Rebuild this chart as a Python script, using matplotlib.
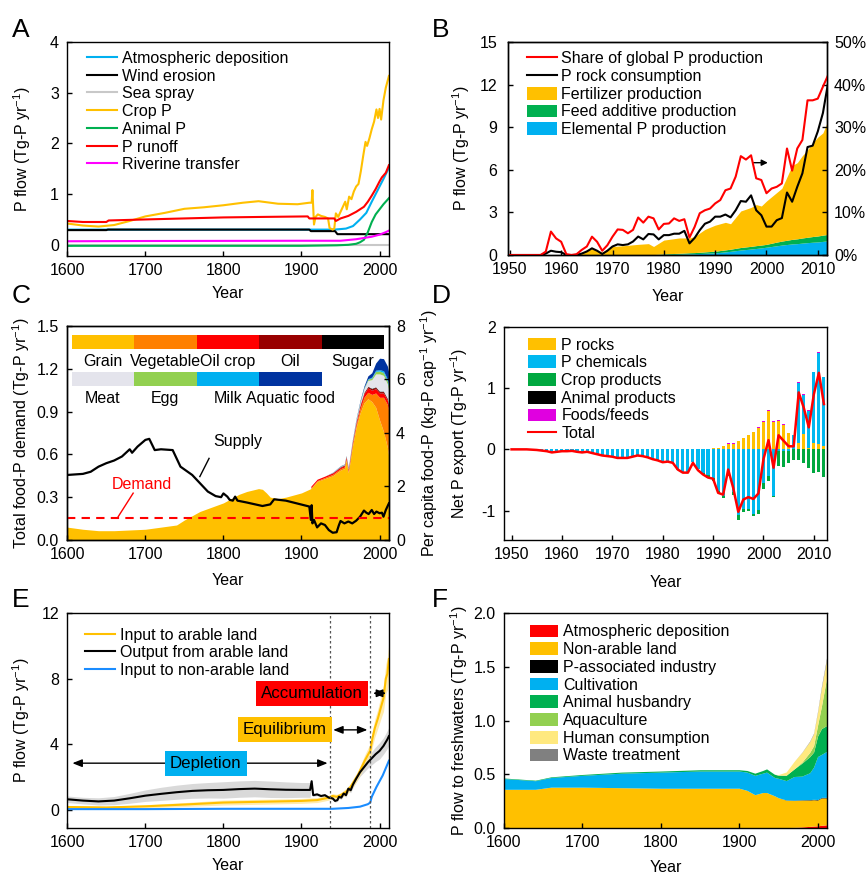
import numpy as np
import matplotlib
matplotlib.use('Agg')
import matplotlib.pyplot as plt
from matplotlib.patches import Patch, Rectangle
from matplotlib.lines import Line2D

plt.rcParams['font.family'] = ['Liberation Sans', 'DejaVu Sans']
plt.rcParams['font.size'] = 11.5
plt.rcParams['axes.unicode_minus'] = False
plt.rcParams['mathtext.fontset'] = 'custom'
plt.rcParams['mathtext.rm'] = 'Liberation Sans'
plt.rcParams['mathtext.it'] = 'Liberation Sans:italic'
plt.rcParams['mathtext.bf'] = 'Liberation Sans:bold'

GOLD = '#FFC000'
CYAN = '#00B0F0'
GREEN = '#00B050'
RED = '#FF0000'
MAGENTA = '#FF00FF'

# ---------------- Panel A: P flows 1600-2012 ----------------
a_dep_years = [1600, 1942, 1950, 1957, 1966, 1975, 1983, 1990, 2000, 2005, 2012]
a_dep = [0.30, 0.30, 0.31, 0.32, 0.37, 0.50, 0.63, 0.85, 1.15, 1.30, 1.52]
a_wind_years = [1600, 1650, 1652, 1910, 1912, 1943, 1946, 2012]
a_wind = [0.29, 0.29, 0.30, 0.30, 0.27, 0.27, 0.21, 0.21]
a_sea_years = [1600, 2012]
a_sea = [0.0, 0.0]
a_crop_years = [1600, 1620, 1640, 1660, 1680, 1700, 1725, 1750, 1775, 1800, 1825, 1845,
                1870, 1895, 1910, 1913, 1914, 1916, 1918, 1921, 1925, 1930, 1934, 1936,
                1940, 1942, 1944, 1947, 1950, 1953, 1956, 1958, 1961, 1964, 1967, 1970,
                1973, 1976, 1979, 1982, 1984, 1987, 1990, 1993, 1996, 1998, 2000, 2002,
                2005, 2008, 2012]
a_crop = [0.42, 0.38, 0.36, 0.39, 0.47, 0.56, 0.63, 0.71, 0.74, 0.78, 0.83, 0.86,
          0.81, 0.80, 0.83, 0.83, 1.08, 0.40, 0.55, 0.60, 0.57, 0.55, 0.52, 0.33,
          0.30, 0.32, 0.62, 0.55, 0.65, 0.75, 0.85, 0.70, 0.95, 0.90, 1.05, 1.15,
          1.20, 1.45, 1.75, 2.03, 1.95, 2.10, 2.28, 2.43, 2.67, 2.50, 2.68, 2.47,
          2.85, 3.10, 3.33]
a_animal_years = [1600, 1900, 1945, 1960, 1970, 1975, 1980, 1985, 1990, 1995, 2000, 2005, 2012]
a_animal = [-0.02, -0.02, -0.01, 0.0, 0.02, 0.05, 0.10, 0.25, 0.45, 0.60, 0.70, 0.80, 0.92]
a_runoff_years = [1600, 1620, 1650, 1653, 1700, 1750, 1800, 1850, 1908, 1910, 1942, 1944,
                  1950, 1960, 1970, 1980, 1985, 1990, 1995, 2000, 2003, 2008, 2012]
a_runoff = [0.47, 0.45, 0.45, 0.48, 0.50, 0.52, 0.54, 0.55, 0.56, 0.52, 0.52, 0.47,
            0.52, 0.57, 0.65, 0.75, 0.85, 0.97, 1.10, 1.25, 1.33, 1.42, 1.57]
a_river_years = [1600, 1700, 1900, 1950, 1970, 1990, 2000, 2008, 2012]
a_river = [0.07, 0.075, 0.08, 0.08, 0.11, 0.16, 0.20, 0.25, 0.28]

# ---------------- Panel B: P industry 1950-2012 ----------------
b_years = list(range(1950, 2013))
b_share = [0, 0, 0, 0, 0, 0, 0, 0.8, 5.5, 3.9,
           3.1, 0.2, 0, 0.2, 1.2, 2.0, 4.3, 3.1, 1.0, 2.3,
           4.3, 6.0, 5.9, 5.1, 5.9, 8.8, 7.6, 9.0, 8.6, 6.0,
           7.3, 7.4, 8.6, 8.0, 8.4, 4.1, 6.6, 9.8, 10.5, 10.9,
           12.1, 12.9, 15.2, 15.6, 18.4, 23.2, 22.4, 23.4, 18.0, 17.6,
           14.5, 15.6, 16.0, 16.8, 25.0, 19.8, 25.0, 27.0, 36.3, 36.3,
           36.7, 39.5, 42.2]
b_rock = [0, 0, 0, 0, 0, 0, 0, 0.1, 0.3, 0.23,
          0.2, 0, 0, 0, 0.1, 0.25, 0.47, 0.3, 0.07, 0.3,
          0.6, 0.75, 0.7, 0.75, 0.95, 1.3, 1.1, 1.48, 1.45, 1.1,
          1.4, 1.4, 1.5, 1.5, 1.7, 0.82, 1.2, 1.75, 2.2, 2.35,
          2.7, 2.7, 2.85, 2.65, 3.15, 3.8, 3.75, 4.2, 3.15, 2.8,
          2.0, 2.0, 2.45, 2.6, 4.4, 3.75, 4.8, 5.75, 7.6, 7.7,
          8.7, 10.0, 12.1]
b_area_years = [1950, 1963, 1964, 1966, 1968, 1970, 1972, 1975, 1977, 1978, 1980, 1983,
                1985, 1986, 1988, 1990, 1992, 1993, 1995, 1997, 1998, 1999, 2000, 2002,
                2003, 2004, 2005, 2006, 2007, 2008, 2009, 2010, 2011, 2012]
b_elemental = [0, 0, 0, 0, 0, 0, 0, 0, 0.01, 0.01, 0.03, 0.06,
               0.08, 0.09, 0.12, 0.15, 0.22, 0.26, 0.35, 0.42, 0.46, 0.50, 0.55, 0.65,
               0.70, 0.74, 0.78, 0.80, 0.84, 0.87, 0.90, 0.92, 0.96, 1.00]
b_feed = [0, 0, 0, 0, 0, 0, 0.01, 0.02, 0.02, 0.02, 0.05, 0.06,
          0.08, 0.08, 0.10, 0.12, 0.14, 0.15, 0.18, 0.19, 0.20, 0.20, 0.20, 0.26,
          0.28, 0.30, 0.32, 0.34, 0.36, 0.38, 0.40, 0.42, 0.44, 0.45]
b_fert = [0, 0, 0.15, 0.45, 0.20, 0.60, 0.64, 0.73, 0.77, 0.57, 0.97, 1.08,
          1.04, 1.13, 1.58, 1.83, 1.94, 1.79, 2.57, 2.74, 2.89, 2.75, 3.05, 3.49,
          3.72, 4.46, 5.20, 5.36, 5.80, 6.15, 6.60, 6.96, 7.20, 8.05]

# ---------------- Panel C: food P ----------------
c_years = [1600, 1620, 1640, 1660, 1680, 1700, 1720, 1740, 1750, 1760, 1770, 1780,
           1790, 1795, 1800, 1810, 1820, 1830, 1845, 1850, 1855, 1860, 1870, 1880,
           1900, 1912, 1920, 1930, 1940, 1950, 1955, 1957, 1960, 1965, 1970, 1975,
           1980, 1985, 1990, 1995, 2000, 2005, 2010, 2012]
c_grain = [0.09, 0.075, 0.065, 0.065, 0.07, 0.075, 0.09, 0.105, 0.14, 0.17, 0.20, 0.22,
           0.24, 0.25, 0.26, 0.29, 0.32, 0.34, 0.36, 0.355, 0.33, 0.30, 0.29, 0.30,
           0.33, 0.36, 0.41, 0.43, 0.45, 0.49, 0.50, 0.56, 0.47, 0.65, 0.79, 0.89,
           0.96, 0.99, 0.97, 0.93, 0.84, 0.76, 0.65, 0.58]
c_mod_start = 1912
c_vegetable = [0.005, 0.006, 0.008, 0.01, 0.01, 0.012, 0.012, 0.012, 0.015, 0.02,
               0.03, 0.04, 0.045, 0.05, 0.10, 0.16, 0.24, 0.30, 0.32]
c_oilcrop = [0.012, 0.01, 0.01, 0.01, 0.01, 0.01, 0.01, 0.01, 0.012, 0.015,
             0.02, 0.025, 0.03, 0.03, 0.03, 0.03, 0.03, 0.03, 0.03]
c_oil = [0, 0, 0, 0.002, 0.003, 0.003, 0.003, 0.004, 0.005, 0.006,
         0.007, 0.008, 0.01, 0.01, 0.01, 0.01, 0.01, 0.01, 0.01]
c_sugar = [0, 0, 0, 0.001, 0.002, 0.002, 0.002, 0.002, 0.002, 0.003,
           0.003, 0.003, 0.003, 0.004, 0.004, 0.004, 0.004, 0.004, 0.004]
c_meat = [0, 0, 0, 0.002, 0.003, 0.003, 0.003, 0.004, 0.006, 0.01,
          0.015, 0.025, 0.04, 0.06, 0.09, 0.12, 0.11, 0.10, 0.10]
c_egg = [0, 0, 0, 0, 0.001, 0.001, 0.001, 0.002, 0.002, 0.003,
         0.004, 0.005, 0.008, 0.012, 0.018, 0.02, 0.02, 0.02, 0.02]
c_milk = [0, 0, 0, 0, 0, 0, 0, 0.001, 0.001, 0.002,
          0.002, 0.003, 0.004, 0.006, 0.008, 0.01, 0.012, 0.015, 0.015]
c_aquatic = [0, 0, 0, 0.001, 0.002, 0.002, 0.002, 0.003, 0.004, 0.005,
             0.007, 0.01, 0.02, 0.03, 0.05, 0.08, 0.085, 0.09, 0.09]
c_food_names = ['Grain', 'Vegetable', 'Oil crop', 'Oil', 'Sugar',
                'Meat', 'Egg', 'Milk', 'Aquatic food']
c_food_colors = [GOLD, '#FF8000', RED, '#990000', '#000000',
                 '#E4E4EC', '#92D050', CYAN, '#0033A0']
c_supply_years = [1600, 1620, 1630, 1640, 1650, 1660, 1670, 1680, 1683, 1690, 1700, 1705,
                  1712, 1720, 1735, 1745, 1760, 1770, 1780, 1790, 1797, 1800, 1805, 1808,
                  1812, 1815, 1818, 1830, 1850, 1860, 1865, 1880, 1910, 1912, 1913, 1914,
                  1916, 1920, 1925, 1930, 1935, 1940, 1945, 1948, 1950, 1955, 1960, 1965,
                  1970, 1975, 1980, 1983, 1986, 1990, 1993, 1996, 2000, 2003, 2005, 2008, 2012]
c_supply = [2.43, 2.47, 2.55, 2.74, 2.87, 2.97, 3.12, 3.39, 3.26, 3.49, 3.74, 3.78,
            3.36, 3.39, 3.36, 2.74, 2.43, 2.12, 1.81, 1.64, 1.60, 1.74, 1.62, 1.50,
            1.47, 1.62, 1.47, 1.40, 1.27, 1.33, 1.52, 1.47, 1.25, 0.75, 1.30, 0.62,
            0.75, 0.47, 0.62, 0.56, 0.37, 0.27, 0.29, 0.56, 0.71, 0.62, 0.69, 0.62,
            0.72, 0.87, 1.10, 1.02, 0.97, 1.12, 0.97, 1.06, 1.00, 1.02, 0.87, 1.12, 1.37]
c_demand_years = [1600, 2012]
c_demand = [0.81, 0.81]

# ---------------- Panel D: net P export ----------------
d_years = list(range(1950, 2013))
d_rocks = [0, 0, 0, 0, 0, 0, 0, 0, 0, 0,
           0, 0, 0, 0, 0, 0, 0, 0, 0, 0,
           0, 0, 0, 0, 0, 0, 0, 0, 0, 0,
           0, 0, 0, 0, 0, 0, 0, 0, 0, 0,
           0.02, 0.03, 0.05, 0.09, 0.09, 0.13, 0.18, 0.23, 0.28, 0.35,
           0.44, 0.63, 0.45, 0.46, 0.40, 0.26, 0.0, 0.10, 0.25, 0.03,
           0.10, 0.08, 0.05]
d_chem = [0, 0, 0, 0, -0.005, -0.01, -0.02, -0.03, -0.05, -0.04,
          -0.03, -0.03, -0.025, -0.04, -0.05, -0.04, -0.06, -0.08, -0.10, -0.11,
          -0.12, -0.14, -0.14, -0.14, -0.12, -0.10, -0.11, -0.13, -0.16, -0.18,
          -0.21, -0.20, -0.22, -0.33, -0.38, -0.38, -0.21, -0.32, -0.38, -0.42,
          -0.46, -0.68, -0.76, -0.40, -0.70, -1.07, -0.98, -0.97, -1.06, -0.99,
          -0.55, -0.44, -0.76, -0.03, -0.03, -0.02, 0.23, 0.98, 0.63, 0.60,
          1.16, 1.50, 1.13]
d_crop = [0, 0, 0, 0, 0, 0, 0, 0, 0, 0,
          0, 0, 0, 0, 0, 0, 0, 0, 0, 0,
          0, 0, 0, 0, 0, 0, 0, 0, 0, 0,
          0, 0, 0, 0, 0, 0, 0, 0, -0.03, -0.04,
          -0.05, -0.04, -0.03, -0.03, -0.04, -0.09, -0.05, -0.03, -0.03, -0.06,
          -0.10, -0.08, -0.02, -0.24, -0.26, -0.20, -0.18, -0.18, -0.23, -0.30,
          -0.38, -0.37, -0.45]
d_animal = [0, 0, 0, 0, 0, 0, 0, 0, 0, 0,
            0, 0, 0, 0, 0, 0, 0, 0, 0, 0,
            0, 0, 0, 0, 0, 0, 0, 0, 0, 0,
            0, 0, 0, 0, 0, 0, 0, 0, 0, 0,
            0, 0, 0, 0, 0, 0, 0, 0, 0, 0,
            0, 0, 0, 0, 0, 0, 0, 0, 0, 0,
            0, 0, 0]
d_foods = [0, 0, 0, 0, 0, 0, 0, 0, 0, 0,
           0, 0, 0, 0, 0, 0, 0, 0, 0, 0,
           0, 0, 0, 0, 0, 0, 0, 0, 0, 0,
           0, 0, 0, 0, 0, 0, 0, 0, 0, 0,
           0, 0, 0, 0.02, 0.01, 0.01, 0.01, 0.01, 0.01, 0.02,
           0.02, 0.02, 0.02, 0.02, 0.01, 0.01, 0.0, 0.02, 0.02, 0.01,
           0.01, 0.01, 0.0]
d_total = [0, 0, 0, 0, -0.005, -0.01, -0.02, -0.03, -0.05, -0.04,
           -0.03, -0.03, -0.025, -0.04, -0.05, -0.04, -0.06, -0.08, -0.10, -0.11,
           -0.12, -0.14, -0.14, -0.14, -0.12, -0.10, -0.11, -0.13, -0.16, -0.18,
           -0.21, -0.20, -0.22, -0.33, -0.38, -0.38, -0.22, -0.34, -0.41, -0.46,
           -0.48, -0.71, -0.74, -0.33, -0.63, -1.02, -0.82, -0.78, -0.81, -0.72,
           -0.16, 0.15, -0.30, 0.23, 0.14, 0.05, 0.05, 0.93, 0.68, 0.36,
           0.90, 1.25, 0.74]

# ---------------- Panel E: arable land balance ----------------
e_in_years = [1600, 1650, 1700, 1750, 1800, 1850, 1900, 1920, 1935, 1940, 1945, 1950,
              1957, 1962, 1968, 1972, 1977, 1981, 1985, 1988, 1991, 1994, 1998, 2002,
              2005, 2008, 2010, 2012]
e_in = [0.18, 0.15, 0.22, 0.33, 0.45, 0.50, 0.55, 0.60, 0.75, 0.85, 0.80, 0.90,
        1.10, 1.35, 1.80, 2.10, 2.60, 3.00, 3.35, 3.60, 4.40, 5.00, 5.60, 6.30,
        6.80, 8.00, 8.30, 9.20]
e_in_band = [0.08, 0.08, 0.10, 0.12, 0.15, 0.15, 0.15, 0.15, 0.15, 0.15, 0.15, 0.15,
             0.20, 0.20, 0.25, 0.25, 0.30, 0.35, 0.40, 0.45, 0.50, 0.55, 0.60, 0.70,
             0.80, 0.90, 1.00, 1.00]
e_out_years = [1600, 1620, 1640, 1660, 1680, 1700, 1720, 1740, 1760, 1780, 1800, 1820,
               1840, 1860, 1880, 1900, 1911, 1913, 1915, 1920, 1925, 1930, 1935, 1940,
               1943, 1946, 1948, 1951, 1954, 1957, 1960, 1963, 1966, 1970, 1975, 1980,
               1985, 1990, 1995, 2000, 2005, 2010, 2012]
e_out = [0.65, 0.57, 0.52, 0.57, 0.71, 0.87, 0.98, 1.08, 1.16, 1.20, 1.22, 1.27,
         1.30, 1.26, 1.23, 1.22, 1.22, 1.75, 0.90, 0.95, 0.85, 0.90, 0.75, 0.70,
         0.55, 0.60, 0.80, 0.75, 1.00, 0.90, 1.30, 1.20, 1.55, 1.90, 2.30, 2.60,
         2.90, 3.15, 3.40, 3.60, 3.90, 4.30, 4.50]
e_out_band = [0.20, 0.20, 0.22, 0.25, 0.30, 0.35, 0.40, 0.43, 0.45, 0.47, 0.50, 0.50,
              0.50, 0.50, 0.48, 0.45, 0.45, 0.10, 0.08, 0.08, 0.08, 0.08, 0.08, 0.08,
              0.08, 0.08, 0.10, 0.10, 0.12, 0.12, 0.15, 0.15, 0.18, 0.20, 0.25, 0.30,
              0.35, 0.40, 0.45, 0.50, 0.50, 0.55, 0.55]
e_non_years = [1600, 1700, 1800, 1900, 1940, 1960, 1975, 1985, 1988, 1990, 1993, 1996,
               2000, 2004, 2008, 2012]
e_non = [0.05, 0.05, 0.07, 0.07, 0.07, 0.12, 0.20, 0.35, 0.45, 0.80, 1.10, 1.40,
         1.75, 2.10, 2.55, 3.00]
e_phase_years = [1937, 1988]

# ---------------- Panel F: P flow to freshwaters ----------------
f_years = [1600, 1620, 1640, 1660, 1680, 1700, 1750, 1800, 1850, 1900, 1910, 1920,
           1930, 1935, 1945, 1950, 1960, 1970, 1980, 1990, 1995, 2000, 2005, 2012]
f_atm = [0, 0, 0, 0, 0, 0, 0, 0, 0, 0, 0, 0,
         0, 0, 0, 0.002, 0.004, 0.006, 0.01, 0.015, 0.018, 0.02, 0.025, 0.03]
f_nonarable = [0.36, 0.36, 0.36, 0.38, 0.38, 0.38, 0.375, 0.37, 0.37, 0.37, 0.35, 0.31,
               0.33, 0.33, 0.30, 0.28, 0.255, 0.25, 0.25, 0.245, 0.245, 0.24, 0.255, 0.25]
f_industry = [0, 0, 0, 0, 0, 0, 0, 0, 0, 0, 0, 0,
              0, 0, 0, 0, 0.002, 0.003, 0.003, 0.004, 0.004, 0.005, 0.005, 0.005]
f_cultivation = [0.10, 0.09, 0.08, 0.09, 0.10, 0.11, 0.135, 0.15, 0.16, 0.16, 0.17, 0.18,
                 0.18, 0.19, 0.17, 0.18, 0.18, 0.22, 0.22, 0.25, 0.30, 0.40, 0.40, 0.43]
f_animal = [0.005, 0.005, 0.005, 0.006, 0.007, 0.008, 0.01, 0.01, 0.012, 0.012, 0.015, 0.02,
            0.025, 0.03, 0.03, 0.03, 0.05, 0.07, 0.12, 0.15, 0.14, 0.19, 0.24, 0.24]
f_aquaculture = [0, 0, 0, 0, 0, 0, 0, 0, 0, 0, 0, 0,
                 0, 0, 0, 0, 0, 0, 0.01, 0.04, 0.06, 0.10, 0.21, 0.46]
f_human = [0, 0, 0, 0, 0, 0, 0, 0, 0, 0, 0, 0,
           0, 0, 0, 0.005, 0.03, 0.07, 0.09, 0.10, 0.11, 0.12, 0.17, 0.17]
f_waste = [0, 0, 0, 0, 0, 0, 0, 0, 0, 0, 0, 0,
           0, 0, 0, 0, 0, 0, 0.002, 0.005, 0.006, 0.01, 0.015, 0.02]
f_names = ['Atmospheric deposition', 'Non-arable land', 'P-associated industry',
           'Cultivation', 'Animal husbandry', 'Aquaculture', 'Human consumption',
           'Waste treatment']
f_colors = [RED, GOLD, '#000000', CYAN, GREEN, '#92D050', '#FFE97F', '#808080']

YLAB = 'Tg-P yr$^{-1}$'


def style(ax):
    ax.tick_params(direction='in', length=3.5, width=1, labelsize=11.5)
    ax.tick_params(axis='x', pad=5)
    ax.tick_params(axis='y', pad=6)
    for s in ax.spines.values():
        s.set_linewidth(1)


def leg(ax, handles, x, y, hl=1.9):
    ax.legend(handles=handles, loc='upper left', bbox_to_anchor=(x, y), frameon=False,
              borderaxespad=0, borderpad=0, labelspacing=0.17, handlelength=hl,
              handletextpad=0.3, handleheight=0.85, fontsize=11.5)


fig = plt.figure(figsize=(8.67, 8.76), dpi=100)

# ---- A ----
axA = fig.add_axes([0.0776, 0.7078, 0.371, 0.2443])
axA.plot(a_dep_years, a_dep, color=CYAN, lw=1.5, label='Atmospheric deposition')
axA.plot(a_wind_years, a_wind, color='black', lw=1.5, label='Wind erosion')
axA.plot(a_sea_years, a_sea, color='#C8C8C8', lw=1.5, label='Sea spray')
axA.plot(a_crop_years, a_crop, color=GOLD, lw=1.5, label='Crop P')
axA.plot(a_animal_years, a_animal, color=GREEN, lw=1.5, label='Animal P')
axA.plot(a_runoff_years, a_runoff, color=RED, lw=1.5, label='P runoff')
axA.plot(a_river_years, a_river, color=MAGENTA, lw=1.5, label='Riverine transfer')
axA.set_xlim(1600, 2012)
axA.set_ylim(-0.22, 4)
axA.set_xticks([1600, 1700, 1800, 1900, 2000])
axA.set_yticks([0, 1, 2, 3, 4])
axA.set_ylabel('P flow (' + YLAB + ')')
axA.set_xlabel('Year')
style(axA)
h, _ = axA.get_legend_handles_labels()
leg(axA, h, 0.06, 0.958)

# ---- B ----
axB = fig.add_axes([0.5863, 0.7089, 0.3676, 0.2432])
b_stack = np.vstack([b_elemental, b_feed, b_fert])
b_cum = np.cumsum(b_stack, axis=0)
b_low = np.vstack([np.zeros(len(b_area_years)), b_cum[:-1]])
for i, col in enumerate([CYAN, GREEN, GOLD]):
    axB.fill_between(b_area_years, b_low[i], b_cum[i], color=col, lw=0)
axB.plot(b_years, b_rock, color='black', lw=1.5)
axB.annotate('', xy=(2000.8, 6.5), xytext=(1996.9, 6.5),
             arrowprops=dict(arrowstyle='-|>', color='black', lw=1, mutation_scale=9))
axB.set_xlim(1949.7, 2011.8)
axB.set_ylim(0, 15)
axB.set_xticks(range(1950, 2011, 10))
axB.set_yticks([0, 3, 6, 9, 12, 15])
axB.set_ylabel('P flow (' + YLAB + ')')
axB.set_xlabel('Year')
style(axB)
axB.tick_params(axis='y', pad=8)
axB2 = axB.twinx()
axB2.plot(b_years, b_share, color=RED, lw=1.5)
axB2.set_ylim(0, 50)
axB2.set_yticks([0, 10, 20, 30, 40, 50])
axB2.set_yticklabels(['0%', '10%', '20%', '30%', '40%', '50%'])
style(axB2)
axB2.tick_params(axis='y', pad=5)
hB = [Line2D([], [], color=RED, lw=1.5, label='Share of global P production'),
      Line2D([], [], color='black', lw=1.5, label='P rock consumption'),
      Patch(facecolor=GOLD, edgecolor='none', label='Fertilizer production'),
      Patch(facecolor=GREEN, edgecolor='none', label='Feed additive production'),
      Patch(facecolor=CYAN, edgecolor='none', label='Elemental P production')]
leg(axB2, hB, 0.059, 0.956, hl=1.85)

# ---- C ----
axC = fig.add_axes([0.0776, 0.3836, 0.371, 0.2443])
i0 = c_years.index(c_mod_start)
axC.fill_between(c_years, 0, c_grain, color=GOLD, lw=0)
c_mod_years = c_years[i0:]
base = np.array(c_grain[i0:])
for vals, col in zip([c_vegetable, c_oilcrop, c_oil, c_sugar, c_meat, c_egg, c_milk, c_aquatic],
                     c_food_colors[1:]):
    top = base + np.array(vals)
    axC.fill_between(c_mod_years, base, top, color=col, lw=0)
    base = top
axC.set_xlim(1600, 2012)
axC.set_ylim(0, 1.5)
axC.set_xticks([1600, 1700, 1800, 1900, 2000])
axC.set_yticks([0, 0.3, 0.6, 0.9, 1.2, 1.5])
axC.set_yticklabels(['0.0', '0.3', '0.6', '0.9', '1.2', '1.5'])
axC.set_ylabel('Total food-P demand (' + YLAB + ')')
axC.set_xlabel('Year')
style(axC)
# colour key inside panel C
seg_w = 0.1943
for k in range(9):
    row = 0 if k < 5 else 1
    col_i = k if k < 5 else k - 5
    x0 = 0.0137 + col_i * seg_w
    y0 = 0.891 if row == 0 else 0.720
    axC.add_patch(Rectangle((x0, y0), seg_w, 0.067, transform=axC.transAxes,
                            facecolor=c_food_colors[k], edgecolor='none', zorder=5))
    axC.text(x0 + seg_w / 2, 0.813 if row == 0 else 0.642, c_food_names[k],
             transform=axC.transAxes, ha='center', va='baseline', fontsize=11.5)
axC2 = axC.twinx()
axC2.plot(c_supply_years, c_supply, color='black', lw=1.6)
axC2.plot(c_demand_years, c_demand, color=RED, lw=1.5, ls=(0, (4, 3)))
axC2.set_ylim(0, 8)
axC2.set_yticks([0, 2, 4, 6, 8])
axC2.set_ylabel('Per capita food-P (kg-P cap$^{-1}$ yr$^{-1}$)')
style(axC2)
axC2.tick_params(axis='y', pad=5)
axC2.text(1818, 3.67, 'Supply', ha='center', va='center', fontsize=11.5)
axC2.plot([1781.6, 1769.8], [3.05, 2.37], color='black', lw=1)
axC2.text(1695.6, 2.06, 'Demand', ha='center', va='center', color=RED, fontsize=11.5)
axC2.plot([1684.4, 1665.2], [1.75, 0.87], color=RED, lw=1)

# ---- D ----
axD = fig.add_axes([0.5813, 0.3836, 0.3725, 0.2432])
pos = np.zeros(len(d_years))
neg = np.zeros(len(d_years))
d_series = [(d_rocks, GOLD, 'P rocks'), (d_chem, '#00B8F0', 'P chemicals'),
            (d_crop, '#00A840', 'Crop products'), (d_animal, 'black', 'Animal products'),
            (d_foods, '#E000E0', 'Foods/feeds')]
hD = []
for vals, col, lab in d_series:
    v = np.array(vals, dtype=float)
    p = np.where(v > 0, v, 0)
    m = np.where(v < 0, v, 0)
    axD.bar(d_years, p, bottom=pos, width=0.62, color=col, lw=0)
    axD.bar(d_years, m, bottom=neg, width=0.62, color=col, lw=0)
    pos += p
    neg += m
    hD.append(Patch(facecolor=col, edgecolor='none', label=lab))
axD.plot(d_years, d_total, color=RED, lw=1.8)
hD.append(Line2D([], [], color=RED, lw=1.5, label='Total'))
axD.set_xlim(1948.5, 2012.6)
axD.set_ylim(-1.48, 2)
axD.set_xticks(range(1950, 2011, 10))
axD.set_yticks([-1, 0, 1, 2])
axD.set_ylabel('Net P export (' + YLAB + ')')
axD.set_xlabel('Year')
style(axD)
leg(axD, hD, 0.075, 0.950, hl=1.77)

# ---- E ----
axE = fig.add_axes([0.0776, 0.0548, 0.371, 0.2454])
ein = np.array(e_in)
eout = np.array(e_out)
axE.fill_between(e_out_years, eout - np.array(e_out_band), eout + np.array(e_out_band),
                 color='#D9D9D9', lw=0)
axE.fill_between(e_in_years, ein - np.array(e_in_band), ein + np.array(e_in_band),
                 color='#FFE699', lw=0, alpha=0.8)
axE.plot(e_in_years, e_in, color=GOLD, lw=1.5, label='Input to arable land')
axE.plot(e_out_years, e_out, color='black', lw=1.5, label='Output from arable land')
axE.plot(e_non_years, e_non, color='#1A8CFF', lw=1.5, label='Input to non-arable land')
for yr in e_phase_years:
    axE.axvline(yr, color='#555555', lw=0.9, ls=(0, (2, 2)))
arrow = dict(arrowstyle='<|-|>,head_length=0.5,head_width=0.2', color='black', lw=1)
axE.annotate('', xy=(1603, 2.85), xytext=(e_phase_years[0], 2.85), arrowprops=arrow)
axE.annotate('', xy=(e_phase_years[0], 4.88), xytext=(e_phase_years[1], 4.88), arrowprops=arrow)
axE.annotate('', xy=(e_phase_years[1], 7.11), xytext=(2012, 7.11), arrowprops=arrow)
box_kw = dict(ha='center', va='center', fontsize=12.2)
axE.text(1777.4, 2.85, 'Depletion',
         bbox=dict(boxstyle='square,pad=0.3', facecolor=CYAN, edgecolor='none'), **box_kw)
axE.text(1878.5, 4.88, 'Equilibrium',
         bbox=dict(boxstyle='square,pad=0.3', facecolor=GOLD, edgecolor='none'), **box_kw)
axE.text(1913.5, 7.11, 'Accumulation',
         bbox=dict(boxstyle='square,pad=0.3', facecolor=RED, edgecolor='none'), **box_kw)
axE.set_xlim(1600, 2012)
axE.set_ylim(-1.1, 12)
axE.set_xticks([1600, 1700, 1800, 1900, 2000])
axE.set_yticks([0, 4, 8, 12])
axE.set_ylabel('P flow (' + YLAB + ')')
axE.set_xlabel('Year')
style(axE)
h, _ = axE.get_legend_handles_labels()
leg(axE, h, 0.055, 0.932)

# ---- F ----
axF = fig.add_axes([0.5813, 0.0548, 0.3725, 0.2454])
f_stack = np.vstack([f_atm, f_nonarable, f_industry, f_cultivation, f_animal,
                     f_aquaculture, f_human, f_waste])
f_cum = np.cumsum(f_stack, axis=0)
f_low = np.vstack([np.zeros(len(f_years)), f_cum[:-1]])
hF = []
for i, col in enumerate(f_colors):
    axF.fill_between(f_years, f_low[i], f_cum[i], color=col, lw=0)
    hF.append(Patch(facecolor=col, edgecolor='none', label=f_names[i]))
axF.set_xlim(1600, 2012)
axF.set_ylim(0, 2)
axF.set_xticks([1600, 1700, 1800, 1900, 2000])
axF.set_yticks([0, 0.5, 1.0, 1.5, 2.0])
axF.set_yticklabels(['0.0', '0.5', '1.0', '1.5', '2.0'])
axF.set_ylabel('P flow to freshwaters (' + YLAB + ')')
axF.set_xlabel('Year')
style(axF)
leg(axF, hF, 0.08, 0.947, hl=1.77)

# axis label placement
for ax, xl, yl in [(axA, -0.107, -0.14), (axB, -0.114, -0.16), (axC, -0.11, -0.154),
                   (axD, -0.105, -0.164), (axE, -0.11, -0.14), (axF, -0.105, -0.149)]:
    ax.yaxis.set_label_coords(xl, 0.5)
    ax.xaxis.set_label_coords(0.5, yl)
axC2.yaxis.set_label_coords(1.09, 0.5)

# panel letters
for lab, x, y in [('A', 12, 37), ('B', 432, 37), ('C', 12, 303), ('D', 432, 303),
                  ('E', 12, 607), ('F', 432, 607)]:
    fig.text(x / 867, 1 - y / 876, lab, fontsize=19, va='baseline', ha='left')

fig.savefig('out.png', dpi=100)
